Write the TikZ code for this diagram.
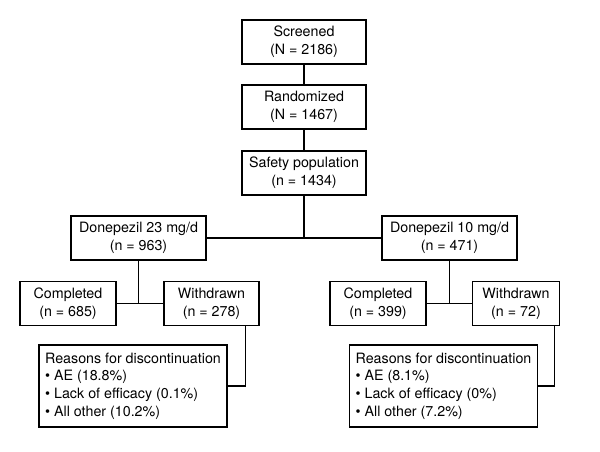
\documentclass[tikz,border=0pt]{standalone}
\usepackage{fontspec}
\setmainfont{TeX Gyre Heros}

\begin{document}
\begin{tikzpicture}[x=0.75pt,y=-0.75pt,
	box/.style={draw,line width=1.1pt,align=center,inner sep=0pt,
		font=\fontsize{10.7}{13.3}\selectfont,minimum height=33pt},
	reasonbox/.style={box,align=left,minimum height=61.5pt,minimum width=141pt},
	link/.style={line width=1.1pt}]
	\useasboundingbox (0,0) rectangle (600,451);
	
	%TOP
	\node[box,minimum width=93pt] (scr) at (304,42)  {Screened\\(N = 2186)};
	\node[box,minimum width=93pt] (rnd) at (304,107) {Randomized\\(N = 1467)};
	\node[box,minimum width=93pt] (saf) at (304,173) {Safety population\\(n = 1434)};
	
	%ARMS
	\node[box,minimum width=101pt] (d23) at (138.5,238) {Donepezil 23 mg/d\\(n = 963)};
	\node[box,minimum width=101pt] (d10) at (449.5,238) {Donepezil 10 mg/d\\(n = 471)};
	
	%OUTCOMES
	\node[box,minimum width=72pt] (c23) at (68,303.5)    {Completed\\(n = 685)};
	\node[box,minimum width=71pt] (w23) at (211.5,303.5) {Withdrawn\\(n = 278)};
	\node[box,minimum width=72pt] (c10) at (378,303.5)   {Completed\\(n = 399)};
	\node[box,minimum width=65pt] (w10) at (516,303.5)   {Withdrawn\\(n = 72)};
	
	%REASONS
	\node[reasonbox] (r23) at (133,386) {Reasons for discontinuation\\\textbullet{} AE (18.8\%)\\\textbullet{} Lack of efficacy (0.1\%)\\\textbullet{} All other (10.2\%)};
	\node[reasonbox] (r10) at (443.5,386) {Reasons for discontinuation\\\textbullet{} AE (8.1\%)\\\textbullet{} Lack of efficacy (0\%)\\\textbullet{} All other (7.2\%)};
	
	%lines
	\coordinate (split) at (saf.south |- d23.east);
	\coordinate (s23) at (d23.south |- c23.east);
	\coordinate (s10) at (d10.south |- c10.east);
	\draw[link] (scr)--(rnd);
	\draw[link] (rnd)--(saf);
	\draw[link] (saf)--(split);
	\draw[link] (d23)--(d10);
	\draw[link] (d23)--(s23);
	\draw[link] (c23)--(w23);
	\draw[link] (d10)--(s10);
	\draw[link] (c10)--(w10);
	\draw[link] ([xshift=-10.5pt]w23.south east) |- (r23.east);
	\draw[link] ([xshift=-4pt]w10.south east) |- (r10.east);
\end{tikzpicture}
\end{document}
